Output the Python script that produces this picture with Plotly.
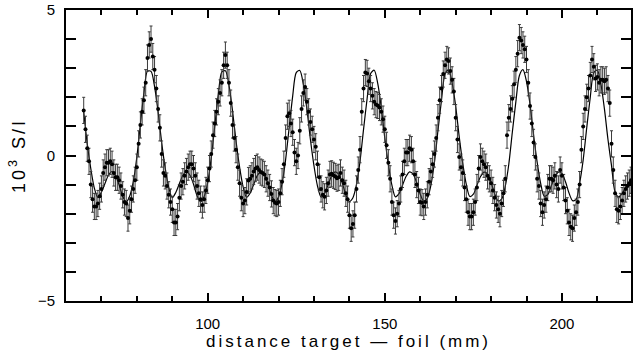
import plotly.graph_objects as go

# ---- measured points (distance in mm, 10^3 S/I) ----
x_data = [
    65.0, 65.5, 66.0, 66.5, 67.0, 67.5, 68.0, 68.5, 69.0, 69.5,
    70.0, 70.5, 71.0, 71.5, 72.0, 72.5, 73.0, 73.5, 74.0, 74.5,
    75.0, 75.5, 76.0, 76.5, 77.0, 77.5, 78.0, 78.5, 79.0, 79.5,
    80.0, 80.5, 81.0, 81.5, 82.0, 82.5, 83.0, 83.5, 84.0, 84.5,
    85.0, 85.5, 86.0, 86.5, 87.0, 87.5, 88.0, 88.5, 89.0, 89.5,
    90.0, 90.5, 91.0, 91.5, 92.0, 92.5, 93.0, 93.5, 94.0, 94.5,
    95.0, 95.5, 96.0, 96.5, 97.0, 97.5, 98.0, 98.5, 99.0, 99.5,
    100.0, 100.5, 101.0, 101.5, 102.0, 102.5, 103.0, 103.5, 104.0, 104.5,
    105.0, 105.5, 106.0, 106.5, 107.0, 107.5, 108.0, 108.5, 109.0, 109.5,
    110.0, 110.5, 111.0, 111.5, 112.0, 112.5, 113.0, 113.5, 114.0, 114.5,
    115.0, 115.5, 116.0, 116.5, 117.0, 117.5, 118.0, 118.5, 119.0, 119.5,
    120.0, 120.5, 121.0, 121.5, 122.0, 122.5, 123.0, 123.5, 124.0, 124.5,
    125.0, 125.5, 126.0, 126.5, 127.0, 127.5, 128.0, 128.5, 129.0, 129.5,
    130.0, 130.5, 131.0, 131.5, 132.0, 132.5, 133.0, 133.5, 134.0, 134.5,
    135.0, 135.5, 136.0, 136.5, 137.0, 137.5, 138.0, 138.5, 139.0, 139.5,
    140.0, 140.5, 141.0, 141.5, 142.0, 142.5, 143.0, 143.5, 144.0, 144.5,
    145.0, 145.5, 146.0, 146.5, 147.0, 147.5, 148.0, 148.5, 149.0, 149.5,
    150.0, 150.5, 151.0, 151.5, 152.0, 152.5, 153.0, 153.5, 154.0, 154.5,
    155.0, 155.5, 156.0, 156.5, 157.0, 157.5, 158.0, 158.5, 159.0, 159.5,
    160.0, 160.5, 161.0, 161.5, 162.0, 162.5, 163.0, 163.5, 164.0, 164.5,
    165.0, 165.5, 166.0, 166.5, 167.0, 167.5, 168.0, 168.5, 169.0, 169.5,
    170.0, 170.5, 171.0, 171.5, 172.0, 172.5, 173.0, 173.5, 174.0, 174.5,
    175.0, 175.5, 176.0, 176.5, 177.0, 177.5, 178.0, 178.5, 179.0, 179.5,
    180.0, 180.5, 181.0, 181.5, 182.0, 182.5, 183.0, 183.5, 184.0, 184.5,
    185.0, 185.5, 186.0, 186.5, 187.0, 187.5, 188.0, 188.5, 189.0, 189.5,
    190.0, 190.5, 191.0, 191.5, 192.0, 192.5, 193.0, 193.5, 194.0, 194.5,
    195.0, 195.5, 196.0, 196.5, 197.0, 197.5, 198.0, 198.5, 199.0, 199.5,
    200.0, 200.5, 201.0, 201.5, 202.0, 202.5, 203.0, 203.5, 204.0, 204.5,
    205.0, 205.5, 206.0, 206.5, 207.0, 207.5, 208.0, 208.5, 209.0, 209.5,
    210.0, 210.5, 211.0, 211.5, 212.0, 212.5, 213.0, 213.5, 214.0, 214.5,
    215.0, 215.5, 216.0, 216.5, 217.0, 217.5, 218.0, 218.5, 219.0, 219.5,
]
y_data = [
    1.55, 0.9, 0.25, -0.2, -1.0, -1.5, -1.75, -1.75, -1.65, -1.4,
    -1.15, -0.6, -0.4, -0.25, -0.25, -0.2, -0.3, -0.6, -0.75, -0.75,
    -0.85, -1.05, -1.35, -1.6, -1.65, -2.15, -1.9, -1.5, -1.15, -0.85,
    -0.4, 0.4, 1.05, 1.5, 1.9, 2.5, 3.35, 3.8, 4.0, 3.4,
    2.95, 2.3, 1.6, 0.95, 0.05, -0.6, -0.7, -1.05, -1.35, -1.6,
    -1.85, -2.3, -2.3, -2.1, -1.45, -1.05, -0.9, -0.7, -0.55, -0.4,
    -0.3, -0.3, -0.45, -0.7, -1.05, -1.3, -1.5, -1.7, -1.5, -1.2,
    -0.85, -0.45, 0.05, 0.7, 1.1, 1.5, 1.85, 2.15, 2.5, 3.1,
    3.45, 3.1, 2.5, 1.8, 1.05, 0.6, 0.2, -0.4, -0.95, -1.45,
    -1.65, -1.55, -1.25, -0.86, -0.8, -0.7, -0.55, -0.45, -0.4, -0.5,
    -0.57, -0.6, -0.65, -0.8, -0.95, -1.1, -1.32, -1.55, -1.62, -1.65,
    -1.6, -1.3, -0.9, -0.3, 0.6, 1.35, 1.45, 1.1, 0.8, 0.1,
    -0.2, 0.0, 0.85, 1.6, 2.15, 2.35, 1.85, 1.5, 1.15, 0.9,
    0.55, 0.3, -0.3, -0.75, -1.15, -1.35, -1.42, -1.2, -0.95, -0.65,
    -0.63, -0.68, -0.72, -0.78, -0.75, -0.6, -0.85, -0.95, -1.3, -1.5,
    -2.05, -2.5, -2.35, -2.05, -1.15, -0.5, 0.2, 1.5, 2.3, 2.85,
    2.82, 2.55, 2.3, 2.05, 1.85, 1.75, 1.72, 1.65, 1.5, 1.25,
    0.9, 0.35, -0.25, -0.8, -1.6, -2.05, -2.25, -2.0, -1.65, -1.15,
    -0.65, -0.2, 0.1, 0.1, 0.25, 0.2, -0.2, -0.65, -1.0, -1.2,
    -1.6, -1.62, -1.75, -1.6, -1.35, -0.9, -0.55, -0.3, 0.05, 0.6,
    1.3, 1.9, 2.3, 2.8, 3.1, 3.3, 3.25, 2.9, 2.6, 2.2,
    1.3, 0.55, -0.05, -0.4, -0.6, -1.1, -1.5, -1.95, -2.1, -2.1,
    -1.95, -1.6, -1.1, -0.45, -0.05, -0.2, -0.3, -0.4, -0.7, -0.8,
    -0.95, -1.2, -1.45, -1.7, -1.85, -2.0, -1.65, -1.3, -0.8, 0.7,
    1.3, 1.6, 1.95, 2.45, 2.95, 3.5, 4.05, 3.95, 3.8, 3.65,
    3.3, 2.5, 1.7, 1.1, 0.45, -0.05, -0.8, -1.05, -1.65, -1.95,
    -1.7, -1.5, -1.1, -0.8, -0.8, -0.85, -0.7, -1.0, -1.15, -0.5,
    -0.7, -1.1, -1.55, -1.9, -2.3, -2.45, -2.5, -2.15, -1.95, -1.6,
    -1.0, 0.2, 1.0, 1.6, 2.0, 2.3, 2.75, 3.3, 3.05, 2.65,
    2.7, 2.5, 2.6, 2.6, 2.55, 2.6, 2.3, 1.8, 0.4, -0.5,
    -1.3, -1.85, -1.9, -1.75, -1.55, -1.3, -1.15, -1.05, -0.95, -0.85,
]
y_error = 0.45

# ---- fitted curve ----
x_fit = [
    65, 66, 67, 68, 69, 70, 71, 72, 73, 74, 75, 76, 77, 78, 79, 80, 81, 82, 83, 84,
    85, 86, 87, 88, 89, 90, 91, 92, 93, 94, 95, 96, 97, 98, 99, 100, 101, 102, 103, 104,
    105, 106, 107, 108, 109, 110, 111, 112, 113, 114, 115, 116, 117, 118, 119, 120, 121, 122, 123, 124,
    125, 126, 127, 128, 129, 130, 131, 132, 133, 134, 135, 136, 137, 138, 139, 140, 141, 142, 143, 144,
    145, 146, 147, 148, 149, 150, 151, 152, 153, 154, 155, 156, 157, 158, 159, 160, 161, 162, 163, 164,
    165, 166, 167, 168, 169, 170, 171, 172, 173, 174, 175, 176, 177, 178, 179, 180, 181, 182, 183, 184,
    185, 186, 187, 188, 189, 190, 191, 192, 193, 194, 195, 196, 197, 198, 199, 200, 201, 202, 203, 204,
    205, 206, 207, 208, 209, 210, 211, 212, 213, 214, 215, 216, 217, 218, 219, 219.5,
]
y_fit = [
    1.5, 0.4, -0.45, -1.12, -1.45, -1.26, -0.96, -0.67, -0.55, -0.7,
    -1.01, -1.4, -1.6, -1.39, -0.9, -0.05, 1.08, 2.15, 2.9, 2.89,
    2.37, 1.5, 0.45, -0.43, -1.1, -1.45, -1.27, -0.97, -0.68, -0.55,
    -0.68, -0.99, -1.38, -1.59, -1.41, -0.93, -0.09, 1.02, 2.1, 2.87,
    2.91, 2.42, 1.55, 0.5, -0.39, -1.08, -1.44, -1.29, -0.99, -0.69,
    -0.56, -0.66, -0.97, -1.37, -1.58, -1.43, -0.96, -0.14, 0.96, 2.05,
    2.85, 2.92, 2.45, 1.6, 0.55, -0.35, -1.05, -1.43, -1.3, -1.0,
    -0.7, -0.56, -0.65, -0.95, -1.35, -1.58, -1.45, -1.0, -0.2, 0.9,
    1.95, 2.82, 2.93, 2.48, 1.65, 0.6, -0.31, -1.02, -1.42, -1.31,
    -1.02, -0.72, -0.56, -0.64, -0.94, -1.33, -1.57, -1.47, -1.03, -0.25,
    0.85, 1.9, 2.8, 2.94, 2.5, 1.7, 0.65, -0.27, -0.99, -1.41,
    -1.33, -1.03, -0.73, -0.57, -0.63, -0.92, -1.31, -1.56, -1.49, -1.06,
    -0.3, 0.8, 1.85, 2.75, 2.95, 2.54, 1.75, 0.7, -0.23, -0.96,
    -1.4, -1.34, -1.04, -0.74, -0.57, -0.62, -0.9, -1.29, -1.55, -1.51,
    -0.95, -0.15, 0.95, 2.0, 2.85, 2.93, 2.45, 1.6, 0.55, -0.35,
    -1.25, -1.42, -1.3, -1.1, -0.92, -0.85,
]

FONT = "Liberation Sans"

fig = go.Figure()
fig.add_trace(go.Scatter(
    x=x_fit, y=y_fit, mode="lines",
    line=dict(color="black", width=1.2, shape="spline", smoothing=0.8),
    hoverinfo="skip", showlegend=False,
))
fig.add_trace(go.Scatter(
    x=x_data, y=y_data, mode="markers",
    marker=dict(color="black", size=4),
    error_y=dict(type="constant", value=y_error, color="#3a3a3a", thickness=1, width=1.5),
    showlegend=False,
))

fig.update_layout(
    width=634, height=358,
    margin=dict(l=66, r=1, t=10, b=57),
    paper_bgcolor="white", plot_bgcolor="white",
    font=dict(family=FONT, color="black", size=15),
    xaxis=dict(
        range=[60, 219.5], showgrid=False, zeroline=False,
        showline=True, linecolor="black", linewidth=2, mirror="allticks",
        ticks="inside", ticklen=8, tickwidth=2, tickcolor="black",
        tick0=0, dtick=50, ticklabelstandoff=8,
        minor=dict(dtick=10, ticks="inside", ticklen=5, tickwidth=1.5, tickcolor="black", showgrid=False),
        tickfont=dict(size=15, family=FONT),
        title=dict(text='<span style="letter-spacing:3px;font-size:17px">distance target \u2014 foil (mm)</span>',
                   font=dict(size=17, family=FONT), standoff=4),
    ),
    yaxis=dict(
        range=[-5, 5], showgrid=False, zeroline=False,
        showline=True, linecolor="black", linewidth=2, mirror="allticks",
        ticks="inside", ticklen=10, tickwidth=2, tickcolor="black",
        tick0=0, dtick=5, ticklabelstandoff=6,
        minor=dict(dtick=1, ticks="inside", ticklen=10, tickwidth=2, tickcolor="black", showgrid=False),
        tickfont=dict(size=15, family=FONT),
        tickformat="d",
        title=dict(text='<span style="letter-spacing:3px;font-size:18px">10<sup>3</sup> S/I</span>',
                   font=dict(size=18, family=FONT), standoff=8),
    ),
)

fig.write_html("out.html")
